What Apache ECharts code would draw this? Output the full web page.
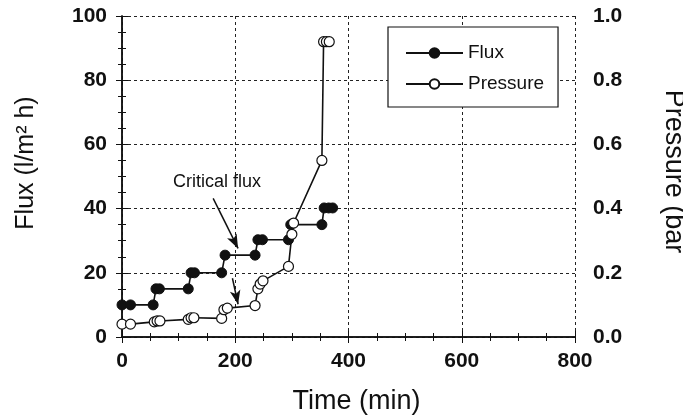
<!DOCTYPE html>
<html>
<head>
<meta charset="utf-8">
<script src="https://cdn.jsdelivr.net/npm/echarts@6/dist/echarts.min.js"></script>
<style>
html, body { margin: 0; padding: 0; background: #fff; }
#chart { width: 683px; height: 420px; }
</style>
</head>
<body>
<div id="chart"></div>
<script>
// flux steps (l/m2 h) against time (min)
var fluxTime = [0, 15, 55, 60, 66, 117, 122, 128, 176, 182, 235, 240, 248, 294, 298, 353, 357, 365, 372];
var fluxValue = [10, 10, 10, 15, 15, 15, 20, 20, 20, 25.5, 25.5, 30.3, 30.3, 30.3, 35, 35, 40.2, 40.2, 40.2];

// transmembrane pressure (bar) against time (min)
var pressureTime = [0, 15, 57, 62, 67, 117, 122, 127, 176, 180, 186, 235, 240, 244, 249, 294, 300, 303, 353, 356, 361, 366];
var pressureValue = [0.04, 0.04, 0.047, 0.05, 0.05, 0.055, 0.06, 0.06, 0.058, 0.085, 0.09, 0.098, 0.15, 0.165, 0.175, 0.22, 0.32, 0.355, 0.55, 0.92, 0.92, 0.92];

// "Critical flux" arrows: [fromTime, fromFlux, toTime, toFlux]
var arrowLines = [
	[161, 43.2, 205, 27.6],
	[195, 18.3, 205, 10.2]
];

function pairs(xs, ys) {
	var out = [];
	for (var i = 0; i < xs.length; i++) {
		out.push([xs[i], ys[i]]);
	}
	return out;
}

var ink = '#111';
var font = 'Liberation Sans, Arial, Helvetica, sans-serif';

var chart = echarts.init(document.getElementById('chart'));

var tickLabel = {
	color : ink,
	fontFamily : font,
	fontSize : 21,
	fontWeight : 'bold'
};

var option = {
	animation : false,
	backgroundColor : '#fff',
	grid : {
		left : 122,
		right : 108,
		top : 16,
		bottom : 83,
		outerBoundsMode : 'none',
		containLabel : false
	},
	legend : {
		orient : 'vertical',
		left : 388,
		top : 27,
		width : 172,
		align : 'left',
		backgroundColor : '#fff',
		borderColor : ink,
		borderWidth : 1.2,
		borderRadius : 0,
		padding : [ 16, 14, 13, 17 ],
		itemWidth : 57,
		itemHeight : 12,
		itemGap : 11,
		textStyle : {
			color : ink,
			fontFamily : font,
			fontSize : 19,
			lineHeight : 20
		},
		data : [ 'Flux', 'Pressure' ]
	},
	graphic : [ {
		type : 'text',
		left : 173,
		top : 173,
		style : {
			text : 'Critical flux',
			fill : ink,
			font : '18px ' + font
		}
	} ],
	xAxis : [ {
		type : 'value',
		min : 0,
		max : 800,
		interval : 200,
		name : 'Time (min)',
		nameLocation : 'middle',
		nameGap : 51,
		nameTextStyle : {
			color : ink,
			fontFamily : font,
			fontSize : 27,
			padding : [ 0, 0, 0, 16 ]
		},
		axisLine : { lineStyle : { color : ink, width : 1.5 } },
		axisTick : { inside : true, length : 6, lineStyle : { color : ink } },
		minorTick : { show : true, splitNumber : 4, length : 4, lineStyle : { color : ink } },
		axisLabel : Object.assign({ margin : 14 }, tickLabel),
		splitLine : { show : true, lineStyle : { color : '#222', type : [ 3, 3 ], width : 1 } }
	}, {
		type : 'value',
		position : 'top',
		min : 0,
		max : 800,
		interval : 200,
		axisLine : { lineStyle : { color : ink, width : 1.5 } },
		axisTick : { inside : true, length : 6, lineStyle : { color : ink } },
		minorTick : { show : true, splitNumber : 4, length : 4, lineStyle : { color : ink } },
		axisLabel : { show : false },
		splitLine : { show : false }
	} ],
	yAxis : [ {
		type : 'value',
		min : 0,
		max : 100,
		interval : 20,
		name : 'Flux (l/m\u00b2 h)',
		nameLocation : 'middle',
		nameGap : 83,
		nameTextStyle : {
			color : ink,
			fontFamily : font,
			fontSize : 25,
			padding : [ 0, 0, 0, 27 ]
		},
		axisLine : { show : true, lineStyle : { color : ink, width : 1.5 } },
		axisTick : { show : true, inside : true, length : 6, lineStyle : { color : ink } },
		minorTick : { show : true, splitNumber : 4, length : 4, lineStyle : { color : ink } },
		axisLabel : Object.assign({ margin : 15 }, tickLabel),
		splitLine : { show : true, lineStyle : { color : '#222', type : [ 3, 3 ], width : 1 } }
	}, {
		type : 'value',
		position : 'right',
		min : 0,
		max : 1,
		interval : 0.2,
		name : 'Pressure (bar',
		nameLocation : 'middle',
		nameRotate : -90,
		nameGap : 85,
		nameTextStyle : {
			color : ink,
			fontFamily : font,
			fontSize : 27,
			padding : [ 0, 10, 0, 0 ]
		},
		axisLine : { show : true, lineStyle : { color : ink, width : 1.5 } },
		axisTick : { show : true, inside : true, length : 6, lineStyle : { color : ink } },
		minorTick : { show : true, splitNumber : 4, length : 4, lineStyle : { color : ink } },
		axisLabel : Object.assign({
			margin : 18,
			formatter : function(v) {
				return v.toFixed(1);
			}
		}, tickLabel),
		splitLine : { show : false }
	} ],
	series : [ {
		name : 'Flux',
		type : 'line',
		xAxisIndex : 0,
		yAxisIndex : 0,
		data : pairs(fluxTime, fluxValue),
		symbol : 'circle',
		symbolSize : 10,
		itemStyle : { color : ink, borderColor : ink, borderWidth : 1 },
		lineStyle : { color : ink, width : 1.6 },
		z : 3,
		markLine : {
			silent : true,
			symbol : [ 'none', 'arrow' ],
			symbolSize : [ 8, 14 ],
			label : { show : false },
			lineStyle : { color : ink, width : 1.5, type : 'solid' },
			data : arrowLines.map(function(a) {
				return [ { coord : [ a[0], a[1] ] }, { coord : [ a[2], a[3] ] } ];
			})
		}
	}, {
		name : 'Pressure',
		type : 'line',
		xAxisIndex : 0,
		yAxisIndex : 1,
		data : pairs(pressureTime, pressureValue),
		symbol : 'circle',
		symbolSize : 10,
		itemStyle : { color : '#fff', borderColor : ink, borderWidth : 1.2 },
		lineStyle : { color : ink, width : 1.6 },
		z : 4
	} ]
};

chart.setOption(option);
</script>
</body>
</html>
